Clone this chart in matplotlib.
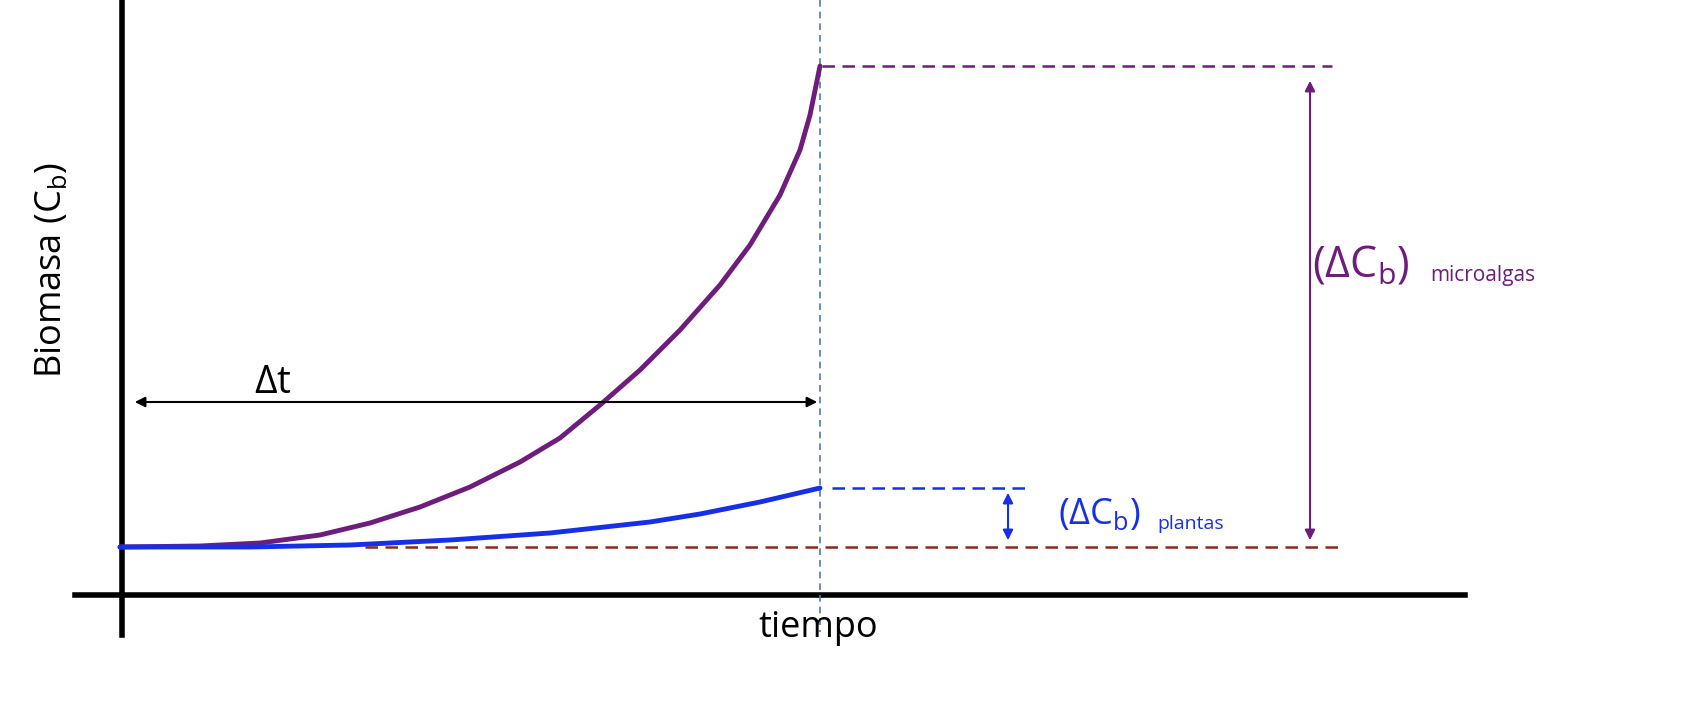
import matplotlib
matplotlib.use("Agg")
import matplotlib.pyplot as plt

plt.rcParams['font.family'] = ['Open Sans', 'DejaVu Sans']
plt.rcParams['mathtext.fontset'] = 'custom'
plt.rcParams['mathtext.rm'] = 'Open Sans'
plt.rcParams['mathtext.it'] = 'Open Sans'

# curve data (picture coords: x right, y down)
micro_x = [120, 200, 260, 320, 370, 420, 470, 520, 560, 600, 640, 680, 720, 750, 780, 800, 810, 820]
micro_y = [547, 546, 543, 535, 523, 507, 487, 462, 438, 405, 370, 330, 285, 245, 195, 150, 115, 66]
plant_x = [120, 250, 350, 450, 550, 650, 700, 760, 820]
plant_y = [547, 547, 545, 540, 533, 522, 514, 502, 488]

purple = '#6E1D7C'
blue = '#1530E8'

fig = plt.figure(figsize=(16.9, 7.08), dpi=100)
ax = fig.add_axes([0, 0, 1, 1])
ax.set_xlim(0, 1690)
ax.set_ylim(708, 0)
ax.axis('off')

# axes
ax.plot([122, 122], [0, 635], color='black', lw=4)
ax.plot([75, 1465], [595, 595], color='black', lw=4)
ax.plot([820, 820], [0, 632], color='#5577AA', lw=1.2, ls=(0, (4, 3)))

# curves
ax.plot(micro_x, micro_y, color=purple, lw=3.5, solid_capstyle='round')
ax.plot(plant_x, plant_y, color=blue, lw=3.5, solid_capstyle='round')

# reference lines
ax.plot([822, 1332], [66, 66], color=purple, lw=1.8, ls=(0, (5, 3)))
ax.plot([832, 1025], [488, 488], color=blue, lw=1.8, ls=(0, (5, 3)))
ax.plot([365, 1345], [547, 547], color='#8B2A1A', lw=1.8, ls=(0, (5, 3)))

# arrows
ax.annotate('', xy=(1310, 78), xytext=(1310, 543),
            arrowprops=dict(arrowstyle='<|-|>', color=purple, lw=1.5, mutation_scale=15))
ax.annotate('', xy=(1008, 490), xytext=(1008, 543),
            arrowprops=dict(arrowstyle='<|-|>', color=blue, lw=1.5, mutation_scale=15))
ax.annotate('', xy=(132, 402), xytext=(820, 402),
            arrowprops=dict(arrowstyle='<|-|>', color='black', lw=1.5, mutation_scale=15))

# text
ax.text(273, 383, r'$\Delta$t', fontsize=28, ha='center', va='center')
ax.text(1312, 265, r'$(\Delta \mathrm{C_b})$', fontsize=31, color=purple, ha='left', va='center')
ax.text(1430, 275, 'microalgas', fontsize=15, color=purple, ha='left', va='center')
ax.text(1058, 515, r'$(\Delta \mathrm{C_b})$', fontsize=26, color=blue, ha='left', va='center')
ax.text(1157, 524, 'plantas', fontsize=14, color=blue, ha='left', va='center')
ax.text(52, 270, r'Biomasa (C$_\mathrm{b}$)', fontsize=26, rotation=90, ha='center', va='center')
ax.text(818, 628, 'tiempo', fontsize=26, ha='center', va='center')

fig.savefig('out.png', dpi=100)
